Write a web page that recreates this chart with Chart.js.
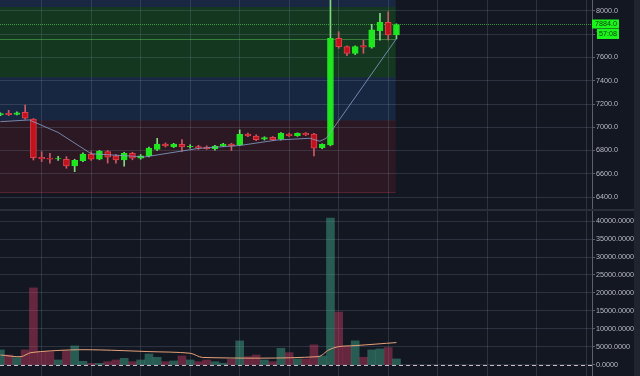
<!DOCTYPE html>
<html><head><meta charset="utf-8">
<script src="https://cdn.jsdelivr.net/npm/chart.js@4.4.1/dist/chart.umd.min.js"></script>
<style>
html,body{margin:0;padding:0;background:#131722;width:640px;height:376px;overflow:hidden}
#strip{position:absolute;left:634px;top:0;width:6px;height:376px;background:#20242e}
#top{position:absolute;left:0;top:0;width:640px;height:209px}
#sep{position:absolute;left:0;top:209px;width:634px;height:2px;background:#2a2e39}
#bot{position:absolute;left:0;top:211px;width:640px;height:165px}
canvas{display:block}
</style></head><body>
<div id="strip"></div>
<div id="top"><canvas id="c1" width="640" height="209"></canvas></div>
<div id="sep"></div>
<div id="bot"><canvas id="c2" width="640" height="165"></canvas></div>
<script>
// ---- data ----
const opens  = [7106,7120,7110,7128,7070,6742,6733,6727,6725,6667,6713,6770,6725,6790,6755,6719,6776,6733,6755,6810,6856,6833,6853,6831,6833,6830,6816,6839,6856,6848,6942,6925,6897,6914,6897,6942,6927,6948,6942,6824,6848,7765,7693,7636,7702,7688,7831,7903,7794];
const highs  = [7125,7145,7132,7190,7075,6790,6776,6750,6747,6725,6780,6790,6800,6800,6765,6785,6785,6765,6830,6905,6865,6862,6895,6850,6845,6840,6845,6862,6862,6977,6950,6935,6918,6920,6955,6950,6952,6955,6948,6858,8150,7822,7700,7700,7750,7885,7980,7994,7890];
const lows   = [7100,7100,7105,7070,6718,6705,6690,6715,6647,6618,6705,6715,6720,6692,6690,6665,6720,6725,6745,6800,6830,6825,6795,6820,6810,6810,6802,6835,6800,6842,6920,6885,6890,6888,6892,6920,6922,6928,6753,6815,6840,7679,7616,7625,7636,7680,7750,7750,7760];
const closes = [7117,7108,7125,7078,6738,6728,6726,6731,6667,6716,6770,6725,6796,6742,6719,6776,6733,6755,6819,6856,6839,6856,6830,6836,6819,6816,6839,6856,6839,6940,6925,6893,6911,6893,6948,6927,6948,6933,6819,6853,7765,7693,7636,7693,7688,7837,7903,7794,7884];
const volumes = [4190,2790,2040,4190,21420,3720,3720,1400,3910,5300,1030,470,470,920,1400,1860,920,1400,3070,2140,920,1120,2510,1400,920,1400,920,500,1580,6700,2330,2790,1400,920,4650,3440,1680,1680,5590,2510,40780,14720,5120,6700,2140,4190,4470,4840,1680];
const maIdx = [0,3.5,7,11,17.5,24,29,33.5,37.5,38.7,39.5,48];
const maVal = [7048,7063,6955,6772,6745,6818,6843,6890,6905,6880,6905,7762];
const volMaIdx = [0,2.5,3.7,8.5,12,18,23,24.5,38.5,39.8,41,43,48];
const volMaVal = [2790,2320,3440,4190,4190,3720,3270,2100,2320,4190,5110,5390,6230];
const priceTicks = [6400,6600,6800,7000,7200,7400,7600,7800,8000];
const volumeTicks = [0,5000,10000,15000,20000,25000,30000,35000,40000];
const gridIdx = [5,11,17,23,29,35,41,47,53,59,65,71];
const zoneLow  = [8034,7431,7060,6440];
const zoneHigh = [8400,8034,7431,7060];
const zoneEndIdx = 47.9;
const lastPrice = 7884.0;
const levelPrice = 7755;
const countdown = '57:08';

// ---- styling ----
const zoneFill = ['#1a2742','#14371f','#182741','#2b1823'];
const zoneEdge = ['rgba(60,90,140,0.5)','rgba(60,140,70,0.55)','rgba(60,90,140,0.5)','rgba(130,40,60,0.6)'];
const upCol='#1fe61f', dnCol='#c2121c', dnBorder='#e0404c';
const gridCol='rgba(150,160,185,0.2)';
const tickCol='#b8bbc4';
const FONT="'Liberation Sans', Arial, sans-serif";
const FSIZE=7.2;
const XMIN=-0.05, XMAX=71.7;
const idx = opens.map((_, i) => i);
const up = opens.map((o, i) => closes[i] >= o);

const zeroPad = s => { s.paddingTop=0; s.paddingBottom=0; s.paddingLeft=0; s.paddingRight=0; };
const xScale = {
  type:'linear', min:XMIN, max:XMAX, offset:false,
  afterBuildTicks: s => { s.ticks = gridIdx.map(v => ({value:v})); },
  afterFit: s => { s.height = 0; zeroPad(s); },
  ticks:{display:false},
  grid:{color:gridCol, drawTicks:false, offset:false},
  border:{display:false}
};
const yScale = (min, max, ticks, fmt) => ({
  position:'right', min, max,
  afterBuildTicks: s => { s.ticks = ticks.map(v=>({value:v})); },
  afterFit: s => { s.width = 48; zeroPad(s); },
  ticks:{callback:v=>Number(v).toFixed(fmt), color:tickCol, font:{size:FSIZE, family:FONT}, padding:1},
  grid:{color:gridCol, tickLength:3, tickColor:'#5d606b'},
  border:{color:'#5d606b'}
});

const zonesPlugin = {
  id:'zones',
  beforeDraw(chart){
    const {ctx, chartArea:a, scales:{x,y}} = chart;
    const xe = x.getPixelForValue(zoneEndIdx);
    ctx.save();
    ctx.beginPath(); ctx.rect(a.left,a.top,a.right-a.left,a.bottom-a.top); ctx.clip();
    zoneLow.forEach((lo,i)=>{
      const yt=y.getPixelForValue(zoneHigh[i]), yb=y.getPixelForValue(lo);
      ctx.fillStyle=zoneFill[i];
      ctx.fillRect(a.left,yt,xe-a.left,yb-yt);
      ctx.strokeStyle=zoneEdge[i]; ctx.lineWidth=1;
      ctx.beginPath(); ctx.moveTo(a.left,Math.round(yb)+0.5); ctx.lineTo(xe,Math.round(yb)+0.5); ctx.stroke();
    });
    const yl=Math.round(y.getPixelForValue(levelPrice))+0.5;
    ctx.strokeStyle='rgba(80,170,80,0.6)';
    ctx.beginPath(); ctx.moveTo(a.left,yl); ctx.lineTo(xe,yl); ctx.stroke();
    ctx.restore();
  },
  beforeDatasetsDraw(chart){
    const {ctx, chartArea:a, scales:{y}} = chart;
    const yp=Math.round(y.getPixelForValue(lastPrice))+0.5;
    ctx.save();
    ctx.strokeStyle='rgba(70,190,70,0.75)'; ctx.lineWidth=1; ctx.setLineDash([1,1]);
    ctx.beginPath(); ctx.moveTo(a.left,yp); ctx.lineTo(a.right,yp); ctx.stroke();
    ctx.restore();
  },
  afterDraw(chart){
    const {ctx, chartArea:a, scales:{y}} = chart;
    const yp=Math.round(y.getPixelForValue(lastPrice));
    ctx.save();
    ctx.fillStyle='#1cf51c';
    ctx.fillRect(a.right,yp-4.5,27,9);
    ctx.fillRect(a.right+5,yp+5,22,10);
    ctx.fillStyle='#0d3a0d';
    ctx.font=FSIZE+'px '+FONT; ctx.textBaseline='middle'; ctx.textAlign='left';
    ctx.fillText(lastPrice.toFixed(1),a.right+3,yp);
    ctx.fillText(countdown,a.right+7,yp+10);
    ctx.restore();
  }
};

new Chart(document.getElementById('c1'), {
  type:'bar',
  data:{datasets:[
    {type:'line', data:maIdx.map((v,i)=>({x:v,y:maVal[i]})), borderColor:'rgba(135,160,205,0.8)', borderWidth:1, pointRadius:0, tension:0},
    {data:idx.map(i=>({x:i,y:[opens[i],closes[i]]})), backgroundColor:up.map(u=>u?upCol:dnCol), borderColor:up.map(u=>u?upCol:dnBorder), borderWidth:1, borderSkipped:false, barThickness:6, grouped:false},
    {data:idx.map(i=>({x:i,y:[lows[i],highs[i]]})), backgroundColor:up.map(u=>u?'#7fd87f':'#cc5a66'), barThickness:1, grouped:false}
  ]},
  options:{
    responsive:false, animation:false, devicePixelRatio:1, layout:{padding:0},
    plugins:{legend:{display:false}, tooltip:{enabled:false}},
    scales:{ x:xScale, y:yScale(6296.8, 8094.6, priceTicks, 1) }
  },
  plugins:[zonesPlugin]
});

const zeroPlugin = {
  id:'zero',
  afterDatasetsDraw(chart){
    const {ctx, chartArea:a, scales:{y}} = chart;
    const y0=Math.round(y.getPixelForValue(0))+0.5;
    ctx.save();
    ctx.strokeStyle='rgba(235,215,230,0.85)'; ctx.lineWidth=1; ctx.setLineDash([4,3]);
    ctx.beginPath(); ctx.moveTo(a.left,y0); ctx.lineTo(a.right,y0); ctx.stroke();
    ctx.restore();
  }
};

new Chart(document.getElementById('c2'), {
  type:'bar',
  data:{datasets:[
    {type:'line', data:volMaIdx.map((v,i)=>({x:v,y:volMaVal[i]})), borderColor:'#e8a27a', borderWidth:1, pointRadius:0, tension:0.3},
    {data:idx.map(i=>({x:i,y:volumes[i]})), backgroundColor:up.map(u=>u?'rgba(70,185,150,0.42)':'rgba(200,60,95,0.45)'), barThickness:8, grouped:false}
  ]},
  options:{
    responsive:false, animation:false, devicePixelRatio:1, layout:{padding:0},
    plugins:{legend:{display:false}, tooltip:{enabled:false}},
    scales:{ x:xScale, y:yScale(-3056, 42778, volumeTicks, 4) }
  },
  plugins:[zeroPlugin]
});
</script>
</body></html>
